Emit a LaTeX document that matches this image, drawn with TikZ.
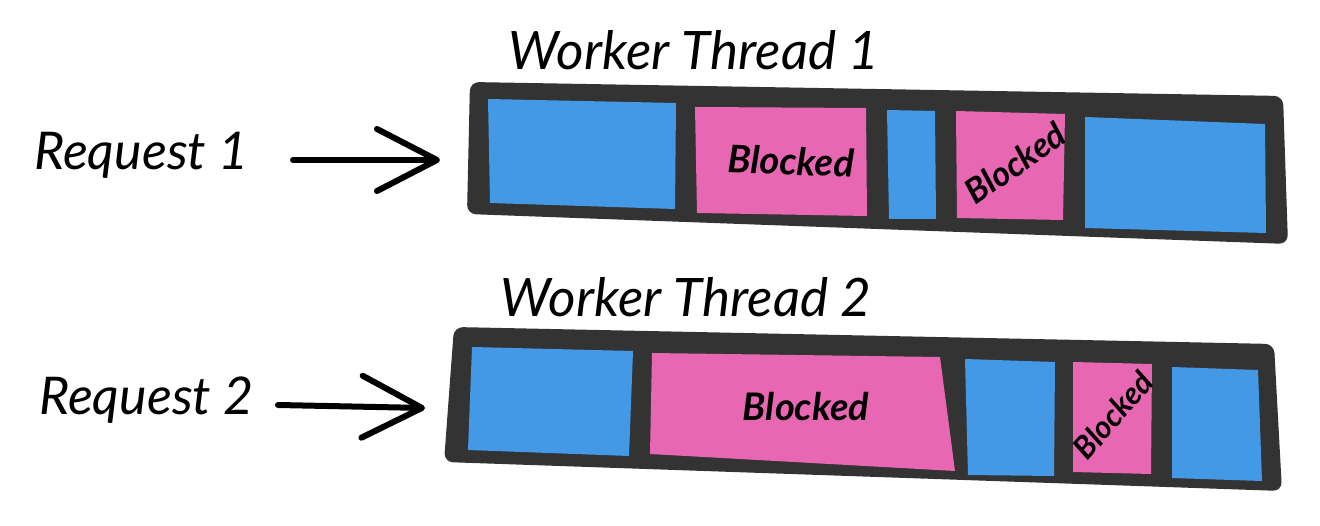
\documentclass[tikz,border=0pt]{standalone}
\usepackage{fontspec}
\setmainfont{Lato}
\usetikzlibrary{arrows.meta,calc,positioning}
\definecolor{barra}{HTML}{333333}
\definecolor{attivo}{HTML}{4399E6}
\definecolor{bloccato}{HTML}{E867B2}

\begin{document}
\begin{tikzpicture}[x=1pt, y=-1pt,
    titolo/.style={font=\fontsize{53}{58}\selectfont\itshape},
    etichetta/.style={font=\fontsize{52}{56}\selectfont\itshape},
    blocco/.style={font=\fontsize{38}{42}\selectfont\bfseries\itshape, inner sep=0pt},
    freccia/.style={-{Straight Barb[round, length=60pt, width=62pt]}, line width=6pt, line cap=round}]
    \useasboundingbox (0,0) rectangle (1320,526);

    % Barra del primo thread
    \fill[barra, rounded corners=9pt] (470,82) -- (1283,96) -- (1288,244) -- (467,214) -- cycle;
    \fill[attivo] (488,99) -- (676,103) -- (675,209) -- (490,203) -- cycle;
    \fill[bloccato] (695,107) -- (866,108) -- (867,216) -- (697,213) -- cycle;
    \fill[attivo] (887,110) -- (935,111) -- (936,219) -- (889,219) -- cycle;
    \fill[bloccato] (956,111) -- (1065,114) -- (1063,220) -- (957,218) -- cycle;
    \fill[attivo] (1085,117) -- (1265,124) -- (1266,233) -- (1085,228) -- cycle;

    % Testi del primo thread
    \node[titolo] (titolo1) at (694,50) {Worker Thread 1};
    \node[blocco, rotate=-2] (blocco1) at (791,161) {Blocked};
    \node[blocco, rotate=35, scale=0.9] (blocco2) at (1015,163) {Blocked};

    % Barra del secondo thread
    \fill[barra, rounded corners=9pt] (454,327) -- (1274,344) -- (1282,491) -- (444,462) -- cycle;
    \fill[attivo] (472,347) -- (633,351) -- (629,456) -- (468,450) -- cycle;
    \fill[bloccato] (652,353) -- (940,357) -- (955,471) -- (650,454) -- cycle;
    \fill[attivo] (965,359) -- (1055,362) -- (1054,476) -- (968,475) -- cycle;
    \fill[bloccato] (1073,362) -- (1152,364) -- (1151,474) -- (1073,472) -- cycle;
    \fill[attivo] (1172,367) -- (1258,370) -- (1262,481) -- (1172,478) -- cycle;

    % Testi del secondo thread
    \node[titolo] (titolo2) at (686,297) {Worker Thread 2};
    \node[blocco] (blocco3) at (806,407) {Blocked};
    \node[blocco, rotate=49, scale=0.82] (blocco4) at (1113,415) {Blocked};

    % Richieste in ingresso
    \node[etichetta, anchor=east] (req1) at (252,155) {Request 1};
    \node[etichetta, anchor=east] (req2) at (257,400) {Request 2};
    \coordinate (ing1) at (468,160);
    \coordinate (ing2) at (452,408);
    \draw[freccia] ([xshift=41pt, yshift=-5pt]req1.east) -- ([xshift=-28pt]ing1);
    \draw[freccia] ([xshift=21pt, yshift=-5pt]req2.east) -- ([xshift=-27pt]ing2);
\end{tikzpicture}
\end{document}
